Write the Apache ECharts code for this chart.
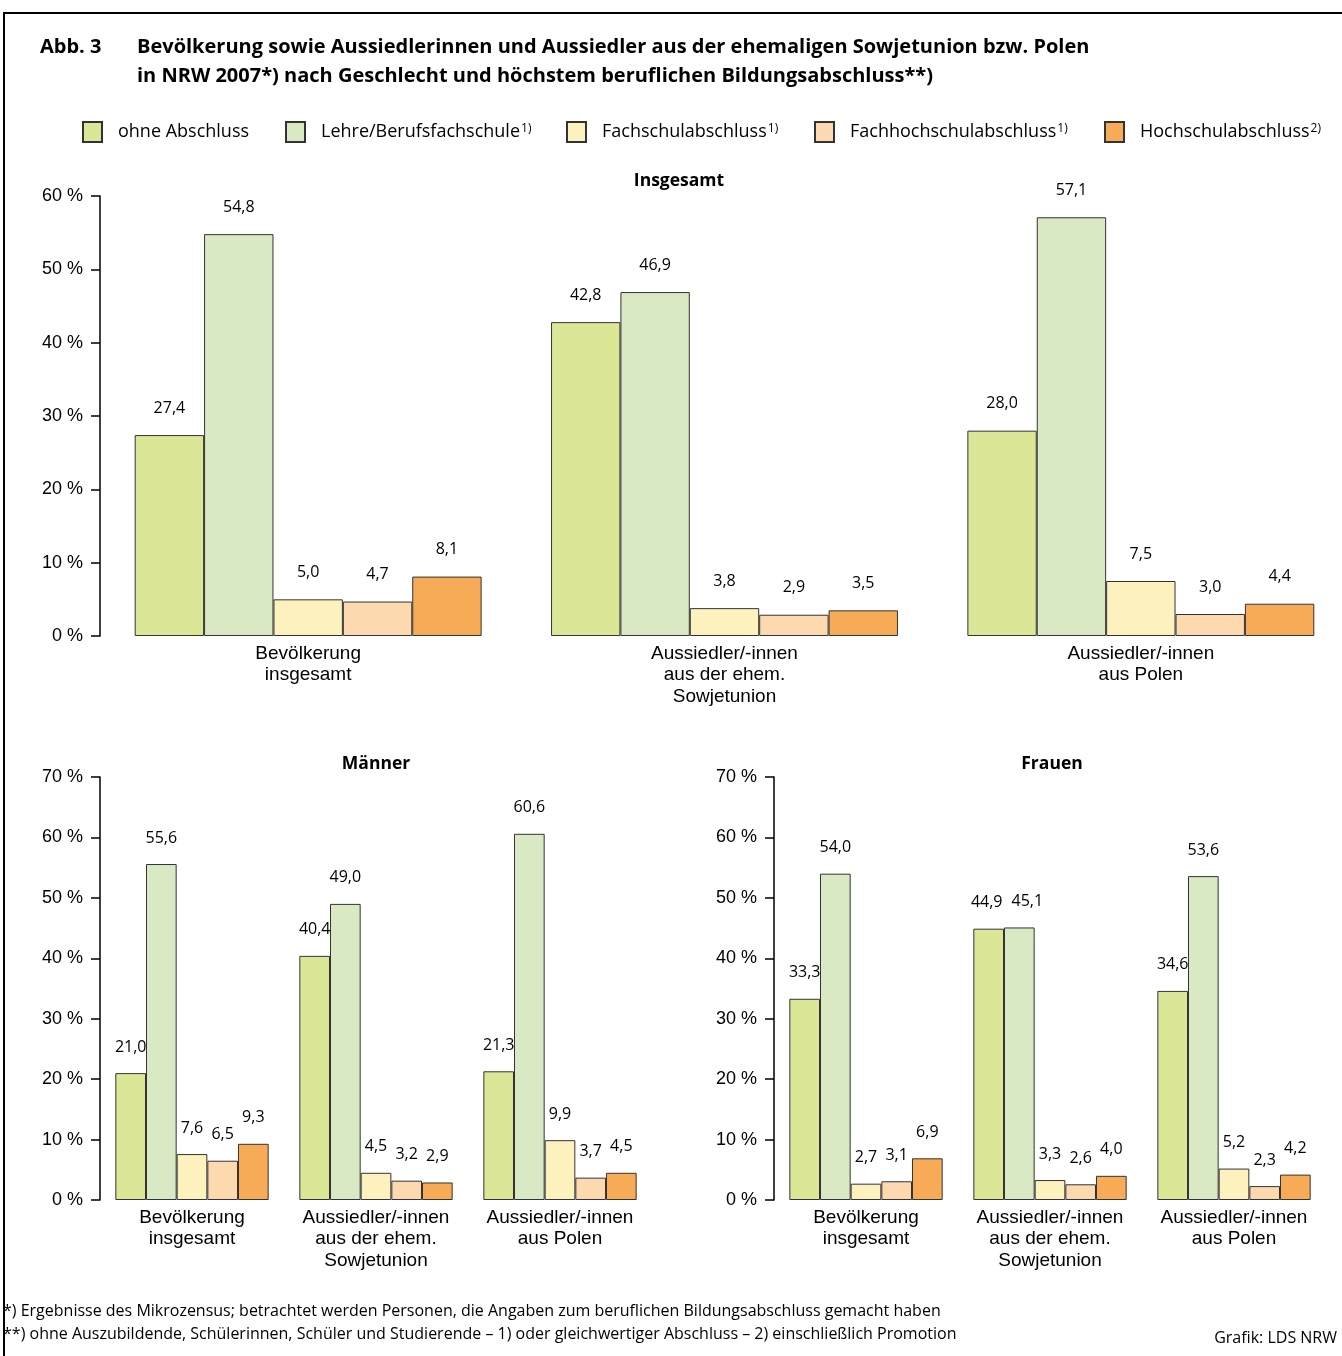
<!DOCTYPE html>
<html><head><meta charset="utf-8">
<script src="https://cdn.jsdelivr.net/npm/echarts@6/dist/echarts.min.js"></script>
<style>html,body{margin:0;padding:0;background:#fff;overflow:hidden}#c{width:1362px;height:1356px}</style>
</head><body><div id="c"></div>
<script>
// ---- data ----
const categories = ['Bevölkerung\ninsgesamt', 'Aussiedler/-innen\naus der ehem.\nSowjetunion', 'Aussiedler/-innen\naus Polen'];
const seriesNames = ['ohne Abschluss', 'Lehre/Berufsfachschule', 'Fachschulabschluss', 'Fachhochschulabschluss', 'Hochschulabschluss'];
const legendNotes = ['', '1)', '1)', '1)', '2)'];
// rows: series (ohne, Lehre, Fachschul, Fachhochschul, Hochschul); cols: categories
const insgesamt = [
  [27.4, 42.8, 28.0],
  [54.8, 46.9, 57.1],
  [5.0, 3.8, 7.5],
  [4.7, 2.9, 3.0],
  [8.1, 3.5, 4.4]
];
const maenner = [
  [21.0, 40.4, 21.3],
  [55.6, 49.0, 60.6],
  [7.6, 4.5, 9.9],
  [6.5, 3.2, 3.7],
  [9.3, 2.9, 4.5]
];
const frauen = [
  [33.3, 44.9, 34.6],
  [54.0, 45.1, 53.6],
  [2.7, 3.3, 5.2],
  [3.1, 2.6, 2.3],
  [6.9, 4.0, 4.2]
];
const topTicks = {min: 0, max: 60, interval: 10};
const bottomTicks = {min: 0, max: 70, interval: 10};
const panelTitles = ['Insgesamt', 'Männer', 'Frauen'];

// ---- styles ----
const colors = ['#dce697', '#d9e9c3', '#fdf1be', '#fdd9b0', '#f7ab56'];
const FR = '"Open Sans", "Noto Sans", sans-serif';
const AR = '"Liberation Sans", Arial, sans-serif';

const chart = echarts.init(document.getElementById('c'), null, {renderer: 'canvas'});

const grids = [
  {left: 100, top: 196, width: 1249, height: 440},
  {left: 100, top: 777, width: 552, height: 423},
  {left: 774, top: 777, width: 552, height: 423}
];
const ranges = [topTicks, bottomTicks, bottomTicks];
const panels = [insgesamt, maenner, frauen];

const xAxes = grids.map((g, i) => ({
  type: 'category', gridIndex: i, data: categories,
  axisLine: {show: false}, axisTick: {show: false},
  axisLabel: {interval: 0, margin: 7, color: '#000', fontFamily: AR, fontSize: 19, lineHeight: 21.5}
}));
const yAxes = grids.map((g, i) => ({
  type: 'value', gridIndex: i, min: ranges[i].min, max: ranges[i].max, interval: ranges[i].interval,
  splitLine: {show: false},
  axisLine: {show: true, lineStyle: {color: '#000', width: 1.5}},
  axisTick: {show: true, length: 9, lineStyle: {color: '#000', width: 1.5}},
  axisLabel: {margin: 17, color: '#000', fontFamily: AR, fontSize: 18, formatter: v => v + ' %'}
}));

const fmt = v => v.toFixed(1).replace('.', ',');
const series = [];
panels.forEach((panel, p) => {
  panel.forEach((vals, s) => {
    series.push({
      type: 'bar', name: seriesNames[s], xAxisIndex: p, yAxisIndex: p,
      // shift the second label a little when two neighbouring bars are nearly equal (labels would touch)
      data: vals.map((v, c) => {
        const item = {value: v};
        if (p > 0 && s === 1 && Math.abs(panel[0][c] - v) < 2) item.label = {offset: [8, 0]};
        if (p > 0 && s === 0 && Math.abs(panel[1][c] - v) < 2) item.label = {offset: [-2, 0]};
        return item;
      }),
      barGap: 0, barCategoryGap: '16.67%',
      itemStyle: {color: colors[s], borderColor: '#333', borderWidth: 1},
      label: {
        show: true, position: 'top', distance: p === 0 ? 19 : 18,
        color: '#000', fontFamily: FR, fontSize: 16,
        formatter: d => fmt(d.value)
      },
      emphasis: {disabled: true}, animation: false
    });
  });
});

const legendLefts = [82, 285, 566, 814, 1104];
const legends = seriesNames.map((n, i) => ({
  show: true, left: legendLefts[i], top: 121, padding: 0, data: [n],
  icon: 'rect', itemWidth: 19, itemHeight: 20, selectedMode: false,
  formatter: name => '{a|' + name + '}' + (legendNotes[i] ? '{s|' + legendNotes[i] + '}' : ''),
  textStyle: {
    color: '#000', fontFamily: FR, fontSize: 18,
    rich: {
      a: {fontFamily: FR, fontSize: 18, color: '#000', padding: [0, 0, 0, 11]},
      s: {fontFamily: FR, fontSize: 12, color: '#000', padding: [0, 0, 7, 1]}
    }
  }
}));

const graphic = [
  {type: 'rect', shape: {x: 4, y: 13, width: 1500, height: 1500}, style: {fill: 'none', stroke: '#000', lineWidth: 2}, silent: true, z: -1},
  {type: 'text', x: 40, y: 47, style: {text: 'Abb. 3', font: 'bold 20px ' + FR, fill: '#000', textVerticalAlign: 'middle'}},
  {type: 'text', x: 137, y: 47, style: {text: 'Bevölkerung sowie Aussiedlerinnen und Aussiedler aus der ehemaligen Sowjetunion bzw. Polen', font: 'bold 20px ' + FR, fill: '#000', textVerticalAlign: 'middle'}},
  {type: 'text', x: 137, y: 76, style: {text: 'in NRW 2007*) nach Geschlecht und höchstem beruflichen Bildungsabschluss**)', font: 'bold 20px ' + FR, fill: '#000', textVerticalAlign: 'middle'}},
  {type: 'text', x: 679, y: 181, style: {text: panelTitles[0], font: 'bold 17.5px ' + FR, fill: '#000', textAlign: 'center', textVerticalAlign: 'middle'}},
  {type: 'text', x: 376, y: 764, style: {text: panelTitles[1], font: 'bold 17.5px ' + FR, fill: '#000', textAlign: 'center', textVerticalAlign: 'middle'}},
  {type: 'text', x: 1052, y: 764, style: {text: panelTitles[2], font: 'bold 17.5px ' + FR, fill: '#000', textAlign: 'center', textVerticalAlign: 'middle'}},
  {type: 'text', x: 3, y: 1311, style: {text: '*) Ergebnisse des Mikrozensus; betrachtet werden Personen, die Angaben zum beruflichen Bildungsabschluss gemacht haben', font: '16px ' + FR, fill: '#000', textVerticalAlign: 'middle'}},
  {type: 'text', x: 3, y: 1334, style: {text: '**) ohne Auszubildende, Schülerinnen, Schüler und Studierende – 1) oder gleichwertiger Abschluss – 2) einschließlich Promotion', font: '16px ' + FR, fill: '#000', textVerticalAlign: 'middle'}},
  {type: 'text', x: 1337, y: 1338, style: {text: 'Grafik: LDS NRW', font: '16px ' + FR, fill: '#000', textAlign: 'right', textVerticalAlign: 'middle'}}
];

chart.setOption({
  animation: false,
  backgroundColor: '#fff',
  grid: grids,
  xAxis: xAxes,
  yAxis: yAxes,
  legend: legends,
  series: series,
  graphic: graphic
});
</script></body></html>
